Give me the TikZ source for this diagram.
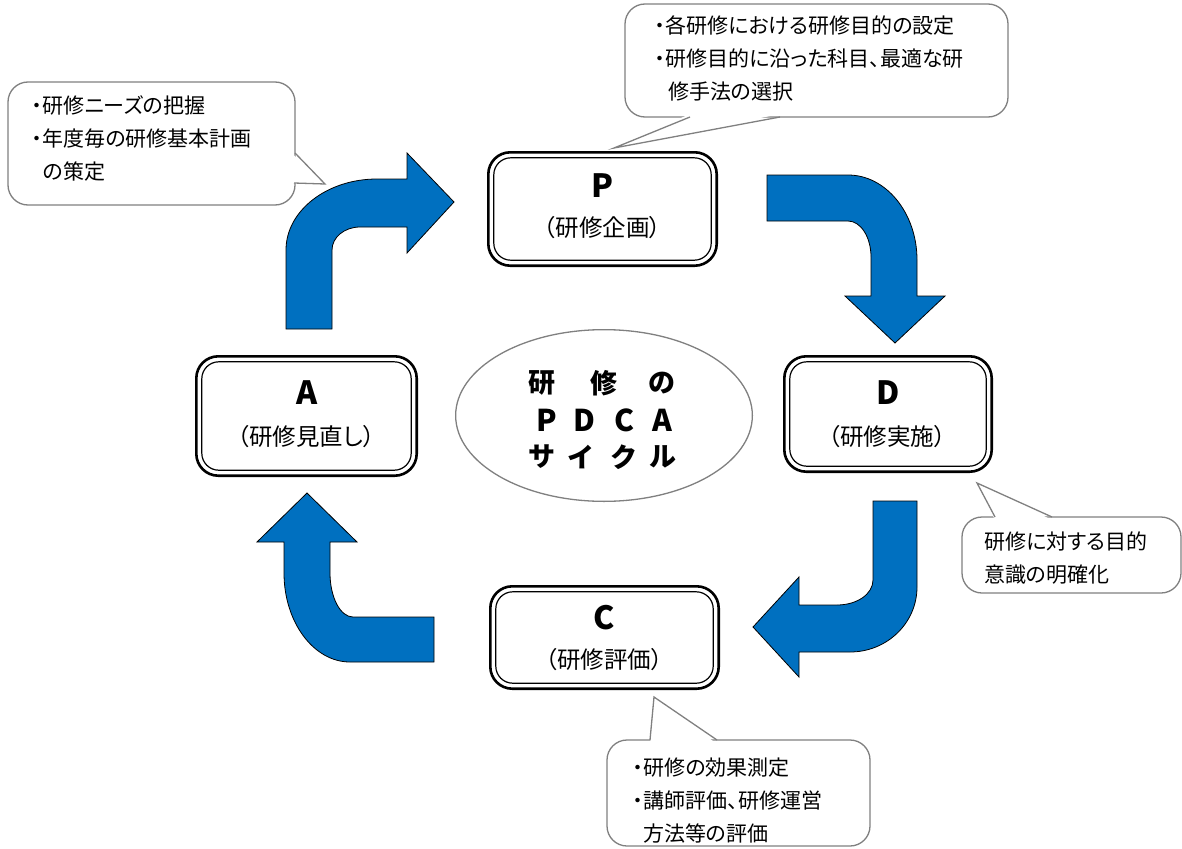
\documentclass[tikz,border=0pt]{standalone}
\usepackage{fontspec}
\setmainfont{Noto Sans CJK JP}[CharacterWidth=AlternateProportional]
\usetikzlibrary{shapes.geometric}
\definecolor{arrowblue}{RGB}{0,112,192}
\definecolor{callgray}{RGB}{128,128,128}
\begin{document}
\begin{tikzpicture}[x=1pt,y=-1pt,
  pdcabox/.style={draw=black, line width=2.6pt, rounded corners=22pt, fill=white, inner sep=0, outer sep=0},
  innerline/.style={draw=black, line width=1.2pt, rounded corners=17pt},
  bigletter/.style={font=\fontsize{32}{32}\selectfont\bfseries, inner sep=0},
  subtitle/.style={font=\fontsize{23.5}{23.5}\selectfont, inner sep=0},
  callbox/.style={draw=callgray, line width=1.3pt, fill=white, rounded corners=20pt, inner sep=0, outer sep=0},
  pointerfill/.style={fill=white},
  pointerline/.style={draw=callgray, line width=1.3pt, line join=miter},
  calltext/.style={font=\fontsize{21}{33}\selectfont, align=left, inner sep=0, anchor=north west},
  bluearrow/.style={fill=arrowblue, draw=black, line width=0.8pt, line join=miter},
  centerell/.style={ellipse, draw=callgray, line width=1.3pt, fill=white, inner sep=0, minimum width=296.7pt, minimum height=171.7pt},
  etext/.style={font=\fontsize{27}{27}\selectfont\bfseries, inner sep=0},
  eletter/.style={font=\fontsize{30}{30}\selectfont\bfseries, inner sep=0}
]
\useasboundingbox (0,0) rectangle (1182,848);

% ---------- arrows ----------
\draw[bluearrow] (286,329) -- (286,250) .. controls (286,210.8) and (326.8,179) .. (377,179) -- (407,179) -- (407,153) -- (454,202) -- (407,253) -- (407,227) -- (360,227) .. controls (344.5,227) and (332,237.3) .. (332,250) -- (332,329) -- cycle;
\draw[bluearrow] (767,175) -- (848,175) .. controls (886,175) and (917,213) .. (917,260) -- (917,296) -- (945,296) -- (895,343) -- (845,296) -- (871,296) -- (871,257) .. controls (871,237) and (860.7,221) .. (848,221) -- (767,221) -- cycle;
\draw[bluearrow] (873,501) -- (917,501) -- (917,587) .. controls (917,623) and (887,652) .. (850,652) -- (799,652) -- (799,677) -- (753,627) -- (799,577) -- (799,605) -- (837,605) .. controls (857,605) and (873,594) .. (873,580) -- cycle;
\draw[bluearrow] (434,617) -- (353,617) .. controls (340.3,617) and (330,597.3) .. (330,573) -- (330,542) -- (357,542) -- (307,493) -- (257,542) -- (284,542) -- (284,573) .. controls (284,622) and (313.6,662) .. (350,662) -- (434,662) -- cycle;

% ---------- callouts ----------
\node[callbox, minimum width=287pt, minimum height=123pt] (c1) at (151.5,143.5) {};
\fill[pointerfill] (292,153.5) -- (325,184) -- (292,183) -- cycle;
\draw[pointerline] (295,153) -- (325,184) -- (294,183);
\node[calltext] (c1t) at (32,95.5) {・研修ニーズの把握\\・年度毎の研修基本計画\\\hspace*{11pt}の策定};

\node[callbox, minimum width=383pt, minimum height=113pt] (c2) at (816.5,60.5) {};
\fill[pointerfill] (690,114) -- (614,148) -- (780,114) -- cycle;
\draw[pointerline] (690,117) -- (614,148) -- (780,117);
\node[calltext] (c2t) at (655,15.5) {・各研修における研修目的の設定\\・研修目的に沿った科目、最適な研\\\hspace*{13pt}修手法の選択};

\node[callbox, minimum width=219pt, minimum height=76pt] (c3) at (1071.5,555) {};
\fill[pointerfill] (995,520) -- (977,483) -- (1052,520) -- cycle;
\draw[pointerline] (995,517) -- (977,483) -- (1052,517);
\node[calltext] (c3t) at (984,531.5) {研修に対する目的\\意識の明確化};

\node[callbox, minimum width=263pt, minimum height=106pt] (c4) at (738.5,793) {};
\fill[pointerfill] (650,744) -- (654,697) -- (717,744) -- cycle;
\draw[pointerline] (650,740) -- (654,697) -- (717,740);
\node[calltext] (c4t) at (633,757.5) {・研修の効果測定\\・講師評価、研修運営\\\hspace*{10pt}方法等の評価};

% ---------- PDCA boxes ----------
\node[pdcabox, minimum width=228.4pt, minimum height=113.4pt] (P) at (602.5,209) {};
\draw[innerline] ([xshift=5.5pt,yshift=-5.5pt]P.north west) rectangle ([xshift=-5.5pt,yshift=5.5pt]P.south east);
\node[bigletter] (Pl) at (602.5,186) {P};
\node[subtitle] (Ps) at (602.5,228) {（研修企画）};

\node[pdcabox, minimum width=220.4pt, minimum height=119.4pt] (A) at (306.5,416) {};
\draw[innerline] ([xshift=5.5pt,yshift=-5.5pt]A.north west) rectangle ([xshift=-5.5pt,yshift=5.5pt]A.south east);
\node[bigletter] (Al) at (307,393) {A};
\node[subtitle] (As) at (306,437) {（研修見直し）};

\node[pdcabox, minimum width=207.4pt, minimum height=115.4pt] (D) at (888,414) {};
\draw[innerline] ([xshift=5.5pt,yshift=-5.5pt]D.north west) rectangle ([xshift=-5.5pt,yshift=5.5pt]D.south east);
\node[bigletter] (Dl) at (888,393) {D};
\node[subtitle] (Ds) at (887,437) {（研修実施）};

\node[pdcabox, minimum width=228.4pt, minimum height=102.4pt] (C) at (604.5,637.5) {};
\draw[innerline] ([xshift=5.5pt,yshift=-5.5pt]C.north west) rectangle ([xshift=-5.5pt,yshift=5.5pt]C.south east);
\node[bigletter] (Cl) at (604,618) {C};
\node[subtitle] (Cs) at (604,660) {（研修評価）};

% ---------- centre ellipse ----------
\node[centerell] (E) at (604,415.5) {};
\node[etext] (e1) at (542,383) {研};
\node[etext] (e2) at (604,383) {修};
\node[etext] (e3) at (662,383) {の};
\node[eletter] (e4) at (547,420) {P};
\node[eletter] (e5) at (584,420) {D};
\node[eletter] (e6) at (624,420) {C};
\node[eletter] (e7) at (662,420) {A};
\node[etext] (e8) at (542,457) {サ};
\node[etext] (e9) at (580,457) {イ};
\node[etext] (e10) at (623,457) {ク};
\node[etext] (e11) at (663,457) {ル};
\end{tikzpicture}
\end{document}
